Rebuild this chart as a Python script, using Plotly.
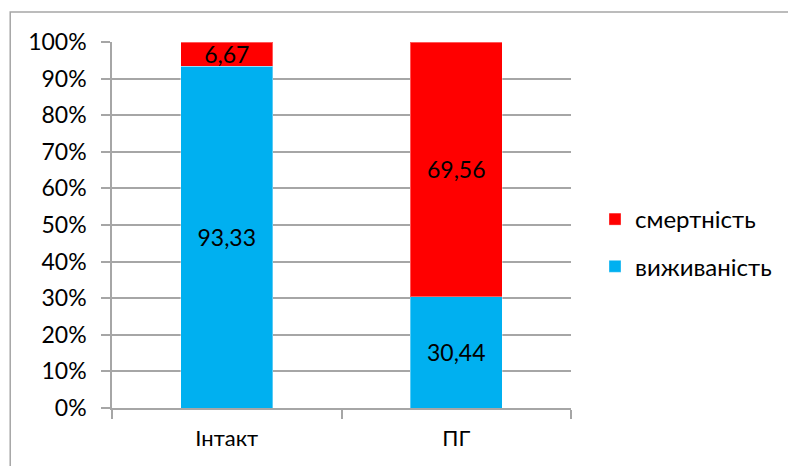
import plotly.graph_objects as go

# Survival / mortality shares per group, %
categories = ["Інтакт", "ПГ"]
survival = [93.33, 30.44]
mortality = [6.67, 69.56]
series_names = ["виживаність", "смертність"]
series_colors = ["#00B0F0", "#FF0000"]
legend_ranks = [2, 1]
y_ticks = [0, 10, 20, 30, 40, 50, 60, 70, 80, 90, 100]

W, H = 788, 466
L, R, T, B = 112, 216, 42, 58
FONT = "Lato"
GRID = "#A6A6A6"


def fmt(v):
    return f"{v:.2f}".replace(".", ",")


fig = go.Figure()
for i, (name, vals, col, rank) in enumerate(zip(series_names, [survival, mortality], series_colors, legend_ranks)):
    fig.add_trace(go.Bar(
        x=categories,
        y=[v / 100 for v in vals],
        name=name,
        legendgroup=f"g{i}",
        legendrank=rank,
        marker=dict(color=col, line=dict(color="rgba(255,255,255,0.35)", width=1)),
        width=0.4,
        text=[fmt(v) for v in vals],
        textposition="inside",
        insidetextanchor="middle",
        textangle=0,
        textfont=dict(family=FONT, size=23, color="#000000"),
        hoverinfo="skip",
    ))

pw, ph = W - L - R, H - T - B
# outer chart frame (its right and bottom edges run past the canvas)
fig.add_shape(
    type="rect", xref="paper", yref="paper",
    x0=(10 - L) / pw, x1=(W + 20 - L) / pw,
    y0=-(H + 20 - T - ph) / ph, y1=(H - B - 12) / ph,
    line=dict(color="#A6A6A6", width=1.5), fillcolor="rgba(0,0,0,0)", layer="below",
)

fig.update_layout(
    width=W, height=H,
    margin=dict(l=L, r=R, t=T, b=B, pad=0),
    barmode="stack",
    plot_bgcolor="#FFFFFF", paper_bgcolor="#FFFFFF",
    font=dict(family=FONT, size=22, color="#000000"),
    showlegend=True,
    legend=dict(
        x=(595 - L) / pw, xanchor="left",
        y=(H - B - 243) / ph, yanchor="middle",
        traceorder="grouped",
        tracegroupgap=13,
        font=dict(family=FONT, size=24, color="#000000"),
        bgcolor="rgba(0,0,0,0)",
        itemwidth=30,
    ),
    uniformtext=dict(minsize=23, mode="show"),
)
fig.update_yaxes(
    range=[0, 1],
    tickvals=[t / 100 for t in y_ticks],
    ticktext=[f"{t}%" for t in y_ticks],
    showgrid=True, gridcolor=GRID, gridwidth=1.5,
    showline=True, linecolor=GRID, linewidth=1.5,
    ticks="outside", ticklen=9, tickcolor=GRID, tickwidth=1.5,
    tickfont=dict(family=FONT, size=23, color="#000000"),
    ticklabelstandoff=10,
    zeroline=False, automargin=False,
)
fig.update_xaxes(
    showline=True, linecolor=GRID, linewidth=1.5,
    ticks="outside", ticklen=9, tickcolor=GRID, tickwidth=1.5,
    tickson="boundaries",
    tickfont=dict(family=FONT, size=22, color="#000000"),
    ticklabelstandoff=10,
    showgrid=False, automargin=False,
)

fig.write_html("out.html")
